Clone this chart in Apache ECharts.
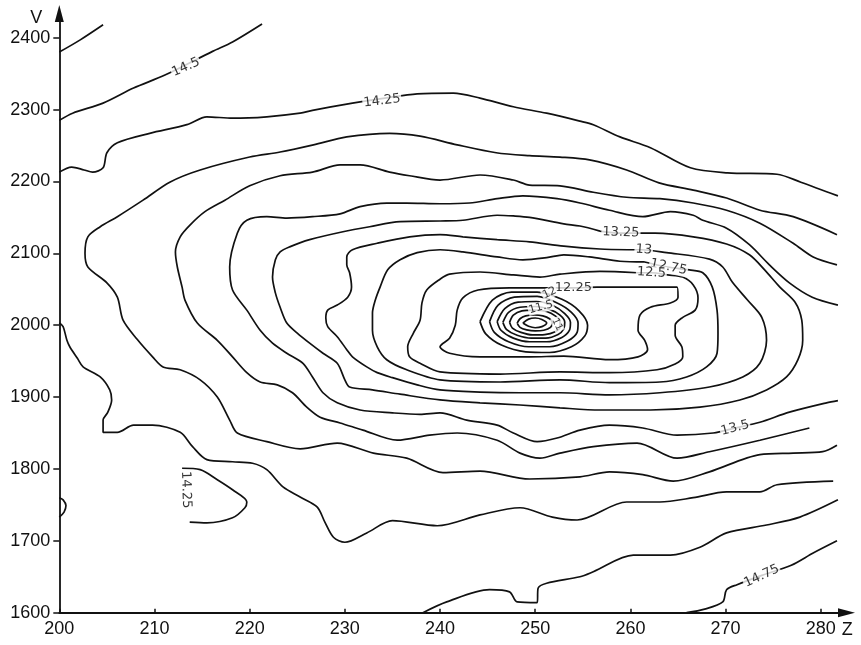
<!DOCTYPE html>
<html>
<head>
<meta charset="utf-8">
<script src="https://cdn.jsdelivr.net/npm/echarts@6/dist/echarts.min.js"></script>
<style>
  html, body { margin: 0; padding: 0; background: #fff; }
  #chart { width: 861px; height: 645px; }
</style>
</head>
<body>
<div id="chart"></div>
<script>
// Axis ticks
const zTicks = [200, 210, 220, 230, 240, 250, 260, 270, 280];
const vTicks = [1600, 1700, 1800, 1900, 2000, 2100, 2200, 2300, 2400];

// Contour polylines, points as [Z, V]
const c1475Top = [[200.0,2380],[202.2,2397],[204.6,2418]];
const c1450Top = [[200.0,2285],[201.4,2295],[204.6,2309],[207.8,2330],[211.1,2348],[216.1,2381],[218.2,2394],[221.3,2419]];
const c1425Top = [[200.0,2213],[201.3,2220],[202.6,2216],[203.5,2213],[204.6,2219],[205.0,2240],[206.1,2254],[209.5,2267],[213.4,2279],[215.5,2290],[218.2,2288],[221.8,2290],[225.3,2295],[226.6,2299],[230.8,2309],[234.2,2316],[237.6,2322],[241.4,2323],[244.2,2316],[247.7,2304],[251.2,2295],[254.7,2284],[256.1,2279],[258.9,2262],[262.1,2247],[266.3,2219],[270.2,2212],[275.4,2210],[277.9,2199],[281.8,2180]];
const c1400 = [[281.7,2126],[277.1,2151],[273.6,2160],[270.1,2177],[266.6,2188],[263.0,2198],[259.6,2216],[255.7,2230],[252.6,2234],[249.4,2236],[245.9,2240],[241.8,2251],[237.9,2263],[234.7,2267],[230.2,2262],[226.7,2251],[223.2,2241],[220.0,2234],[214.8,2216],[211.6,2199],[208.8,2174],[206.1,2151],[204.3,2137],[203.0,2123],[202.7,2100],[203.0,2081],[205.0,2059],[206.1,2039],[206.7,2007],[208.2,1980],[209.8,1956],[210.9,1942],[212.7,1938],[214.8,1924],[216.6,1900],[217.9,1868],[218.7,1850],[221.8,1838],[225.3,1828],[229.2,1836],[233.0,1822],[236.5,1815],[240.3,1795],[244.2,1797],[249.4,1786],[254.7,1789],[257.8,1796],[261.3,1792],[264.5,1783],[268.3,1796],[273.6,1820],[277.1,1822],[280.2,1824],[281.7,1833]];
const c1375 = [[281.7,2084],[279.2,2095],[277.1,2114],[273.6,2142],[270.1,2160],[266.6,2170],[263.1,2176],[259.6,2178],[256.1,2185],[252.6,2194],[249.4,2195],[247.7,2202],[244.2,2209],[240.0,2202],[236.8,2208],[234.7,2213],[231.6,2223],[229.5,2223],[226.6,2213],[223.2,2208],[220.0,2194],[217.4,2174],[215.3,2158],[213.7,2139],[212.7,2123],[212.2,2102],[212.4,2081],[212.9,2053],[213.2,2035],[214.5,2003],[216.6,1979],[218.2,1956],[219.7,1934],[221.1,1921],[222.9,1917],[224.5,1906],[226.0,1886],[227.4,1872],[229.5,1864],[231.9,1854],[235.5,1840],[238.9,1847],[241.8,1850],[246.0,1840],[248.4,1822],[250.5,1815],[252.6,1822],[256.1,1831],[260.7,1836],[264.9,1815],[268.3,1824],[273.6,1840],[278.8,1857]];
const c1350 = [[281.8,2028],[279.1,2039],[276.7,2059],[274.6,2084],[272.5,2112],[270.1,2135],[267.6,2146],[266.6,2153],[264.2,2158],[261.3,2151],[257.8,2160],[254.7,2170],[252.3,2176],[248.7,2180],[246.0,2176],[243.1,2170],[240.0,2169],[236.5,2170],[234.4,2170],[231.6,2165],[229.5,2155],[226.6,2151],[223.9,2149],[221.8,2151],[219.7,2146],[218.7,2128],[217.9,2081],[218.2,2049],[219.7,2021],[221.1,1993],[222.4,1975],[223.9,1961],[225.6,1947],[226.6,1928],[227.7,1906],[229.2,1892],[231.6,1882],[235.0,1878],[237.9,1876],[240.0,1878],[242.8,1868],[246.0,1861],[247.7,1850],[250.2,1838],[252.3,1843],[254.7,1854],[257.8,1861],[261.3,1857],[264.9,1847],[268.7,1850],[271.0,1857],[273.6,1865],[276.7,1879],[280.6,1892],[281.8,1895]];
const c1325 = [[256.8,2131],[254.7,2138],[253.0,2141],[249.4,2150],[247.7,2152],[246.0,2153],[242.4,2146],[240.0,2145],[235.8,2144],[232.6,2137],[229.8,2130],[226.3,2119],[224.2,2109],[223.2,2102],[222.7,2091],[222.4,2067],[222.7,2045],[223.2,2025],[223.9,2003],[225.0,1989],[226.3,1975],[227.7,1961],[229.2,1947],[230.0,1924],[230.5,1914],[232.9,1910],[235.8,1904],[240.0,1896],[244.2,1892],[248.4,1889],[252.6,1885],[256.8,1882],[262.1,1882],[267.3,1886],[271.5,1896],[274.3,1910],[276.4,1928],[277.6,1952],[278.1,1979],[278.0,2007],[277.3,2032],[275.7,2053],[274.1,2077],[272.5,2098],[270.1,2113],[266.6,2123],[262.6,2128],[259.0,2128],[256.8,2131]];
const c1300 = [[259.7,2105],[256.8,2106],[253.0,2110],[249.4,2116],[246.0,2119],[242.4,2123],[240.0,2126],[236.8,2123],[233.4,2114],[230.8,2105],[230.2,2095],[230.2,2084],[230.5,2073],[230.7,2053],[230.3,2039],[229.2,2028],[228.2,2021],[228.0,2010],[228.2,1998],[229.2,1984],[230.2,1966],[230.8,1956],[232.3,1942],[233.4,1934],[235.0,1927],[237.6,1917],[240.0,1910],[244.2,1907],[248.4,1906],[252.6,1906],[257.8,1903],[263.1,1906],[268.3,1914],[271.8,1928],[273.6,1947],[274.3,1979],[273.8,2011],[272.3,2035],[270.7,2060],[269.7,2081],[268.3,2092],[263.8,2101],[261.2,2105],[259.7,2105]];
const c1275 = [[261.5,2088],[258.9,2089],[255.7,2095],[253.0,2098],[251.2,2094],[248.7,2091],[246.0,2095],[242.4,2102],[240.0,2105],[237.6,2101],[235.8,2091],[234.5,2077],[233.7,2053],[233.2,2035],[232.9,2017],[232.9,1993],[233.4,1970],[234.4,1952],[236.5,1938],[240.0,1924],[246.3,1921],[252.6,1924],[257.8,1920],[263.1,1921],[265.9,1928],[268.0,1942],[269.1,1961],[269.2,1989],[269.1,2021],[268.6,2053],[267.6,2073],[266.2,2077],[263.9,2081],[261.5,2088]];
const c1250 = [[260.7,2073],[256.8,2075],[252.6,2071],[250.5,2067],[247.7,2070],[244.2,2074],[241.0,2071],[240.0,2064],[238.6,2049],[238.1,2031],[237.9,2007],[237.2,1989],[236.6,1970],[236.8,1956],[237.9,1947],[240.0,1935],[246.3,1932],[252.6,1935],[257.8,1934],[262.8,1938],[264.7,1946],[265.5,1956],[265.4,1970],[264.7,1986],[264.7,2000],[265.5,2011],[266.8,2021],[267.1,2038],[266.6,2056],[265.5,2067],[263.9,2070],[262.2,2073],[260.7,2073]];
const c1225 = [[251.8,2052],[247.3,2052],[244.0,2049],[242.4,2038],[241.8,2021],[241.6,2000],[241.0,1982],[240.0,1970],[241.0,1961],[244.2,1956],[249.4,1956],[253.0,1957],[257.8,1952],[260.8,1956],[261.8,1966],[261.5,1979],[260.8,1993],[261.0,2014],[262.1,2025],[264.2,2031],[265.0,2039],[264.9,2053],[261.0,2053],[256.5,2053],[254.0,2052],[251.8,2052]];
const c1200 = [[244.2,2005],[244.8,1988],[246.5,1972],[249.0,1963],[251.5,1962],[253.8,1970],[255.2,1985],[255.5,2000],[254.6,2020],[252.8,2036],[250.2,2046],[247.5,2046],[245.5,2035],[244.2,2005]];
const c1175 = [[245.2,2005],[245.7,1990],[247.2,1977],[249.3,1970],[251.5,1970],[253.4,1978],[254.4,1990],[254.5,2003],[253.8,2018],[252.3,2031],[250.2,2040],[247.8,2039],[246.1,2028],[245.2,2005]];
const c1150 = [[246.0,2005],[246.4,1993],[247.7,1982],[249.4,1977],[251.2,1977],[252.8,1983],[253.6,1993],[253.7,2004],[253.1,2016],[251.9,2027],[250.1,2033],[248.2,2032],[246.8,2023],[246.0,2005]];
const c1125 = [[246.6,2004],[247.0,1994],[248.1,1986],[249.6,1982],[251.1,1982],[252.4,1987],[253.0,1995],[253.1,2004],[252.6,2014],[251.5,2022],[250.0,2026],[248.4,2025],[247.2,2018],[246.6,2004]];
const c1100 = [[247.3,2004],[247.6,1996],[248.5,1990],[249.7,1986.5],[251.0,1987],[252.1,1991],[252.6,1997],[252.6,2005],[252.1,2013],[251.2,2019],[249.9,2021],[248.6,2020],[247.7,2014],[247.3,2004]];
const c1075 = [[248.1,2003],[248.4,1997],[249.1,1993.5],[250.0,1992],[250.9,1993],[251.6,1997],[251.8,2003],[251.5,2009],[250.8,2013],[249.9,2014.2],[249.0,2013],[248.4,2009],[248.1,2003]];
const c1050 = [[248.7,2003],[249.3,1998.5],[250.0,1996.5],[250.7,1998],[251.2,2003],[250.7,2008],[250.0,2010],[249.3,2008.5],[248.7,2003]];
const c1425Bot = [[200.0,2003],[200.4,1998],[200.8,1979],[201.1,1970],[201.9,1954],[202.5,1942],[204.3,1928],[205.3,1910],[205.5,1896],[205.1,1879],[204.6,1868],[204.6,1851],[206.1,1851],[207.8,1861],[209.8,1861],[212.7,1851],[214.0,1831],[215.5,1813],[218.2,1810],[220.3,1808],[221.8,1799],[223.5,1775],[225.3,1761],[227.1,1747],[227.9,1726],[228.8,1705],[230.0,1698],[232.3,1711],[235.0,1728],[239.7,1721],[244.2,1736],[248.4,1746],[251.8,1733],[254.4,1729],[259.6,1754],[263.1,1754],[266.6,1760],[270.1,1768],[273.6,1768],[275.4,1778],[281.3,1783]];
const c1425Isle = [[212.9,1801],[214.8,1799],[216.6,1785],[218.2,1771],[219.7,1754],[219.5,1746],[218.2,1732],[215.5,1725],[213.7,1726]];
const c1450Edge = [[200.0,1760],[200.4,1757],[200.7,1749],[200.5,1740],[200.0,1733]];
const c1450Bot = [[238.2,1600],[240.7,1615],[245.2,1632],[247.3,1629],[248.1,1615],[250.2,1614],[250.3,1634],[251.2,1641],[254.7,1650],[256.1,1657],[260.3,1680],[264.2,1680],[267.3,1691],[270.1,1711],[274.3,1722],[277.8,1733],[281.8,1757]];
const c1475Bot = [[265.9,1600],[267.8,1605],[269.7,1615],[270.1,1632],[271.2,1639],[273.8,1652],[276.9,1666],[279.2,1683],[281.7,1700]];

// Contour value labels
const labelText = ['14.5', '14.25', '13.25', '13', '12.75', '12.5', '12.25', '12', '11.5', '11', '13.5', '14.25', '14.75'];
const labelZ    = [213.3, 233.9, 259.0, 261.4, 264.0, 262.2, 254.0, 251.5, 250.6, 252.3, 271.0, 213.3, 273.8];
const labelV    = [2359, 2312, 2129, 2105, 2081, 2073, 2052, 2045, 2025, 2001, 1857, 1771, 1651];

// Text orientation along each contour (degrees) and size
const labelAngle = [24, 7, -2, -5, -12, -3, 0, 25, 15, -65, 15, -88, 25];
const labelSize  = [13, 13, 13, 13, 13, 13, 13, 11, 11, 10, 13, 13, 13];

const contourLines = [
  c1475Top, c1450Top, c1425Top, c1400, c1375, c1350, c1325, c1300, c1275, c1250, c1225,
  c1200, c1175, c1150, c1125, c1100, c1075, c1050,
  c1425Bot, c1425Isle, c1450Edge, c1450Bot, c1475Bot
];

const ink = '#111';
const tickFont = 'Liberation Sans';

const series = contourLines.map(pts => ({
  type: 'line',
  data: pts,
  symbol: 'none',
  showSymbol: false,
  smooth: 0.3,
  silent: true,
  clip: false,
  z: 2,
  lineStyle: { color: ink, width: 1.7 }
}));

series.push({
  type: 'scatter',
  symbolSize: 1,
  silent: true,
  z: 5,
  itemStyle: { color: 'rgba(0,0,0,0)' },
  label: {
    show: true,
    position: 'inside',
    formatter: '{b}',
    color: '#000',
    fontFamily: 'DejaVu Sans',
    backgroundColor: '#fff',
    padding: [0, 1]
  },
  data: labelText.map((t, i) => ({
    name: t,
    value: [labelZ[i], labelV[i]],
    label: { rotate: labelAngle[i], fontSize: labelSize[i] }
  }))
});

const plain = v => String(v);

const chart = echarts.init(document.getElementById('chart'), null, { renderer: 'canvas' });
chart.setOption({
  animation: false,
  backgroundColor: '#fff',
  grid: { left: 59.3, right: 14.5, top: 13.5, bottom: 32.3, outerBoundsMode: 'none' },
  xAxis: {
    type: 'value',
    min: 200, max: 282.7, interval: 10,
    name: 'Z', nameLocation: 'end', nameGap: -4,
    nameTextStyle: { fontFamily: tickFont, fontSize: 18, color: ink, align: 'center', verticalAlign: 'top', padding: [8, 0, 0, 0] },
    axisLine: { show: true, symbol: ['none', 'triangle'], symbolSize: [9, 17], lineStyle: { color: ink, width: 1.8 } },
    axisTick: { show: true, inside: true, length: 4, customValues: zTicks, lineStyle: { color: ink, width: 1.5 } },
    axisLabel: { customValues: zTicks, formatter: plain, fontFamily: tickFont, fontSize: 18, color: ink, margin: 7 },
    splitLine: { show: false }
  },
  yAxis: {
    type: 'value',
    min: 1600, max: 2433.7, interval: 100,
    name: 'V', nameLocation: 'end', nameGap: 0,
    nameTextStyle: { fontFamily: tickFont, fontSize: 18, color: ink, align: 'right', verticalAlign: 'top', padding: [-4, 17, 0, 0] },
    axisLine: { show: true, symbol: ['none', 'triangle'], symbolSize: [9, 17], lineStyle: { color: ink, width: 1.8 } },
    axisTick: { show: true, inside: false, length: 6, customValues: vTicks, lineStyle: { color: ink, width: 1.5 } },
    axisLabel: { customValues: vTicks, formatter: plain, fontFamily: tickFont, fontSize: 18, color: ink, margin: 9 },
    splitLine: { show: false }
  },
  series: series
});
</script>
</body>
</html>
